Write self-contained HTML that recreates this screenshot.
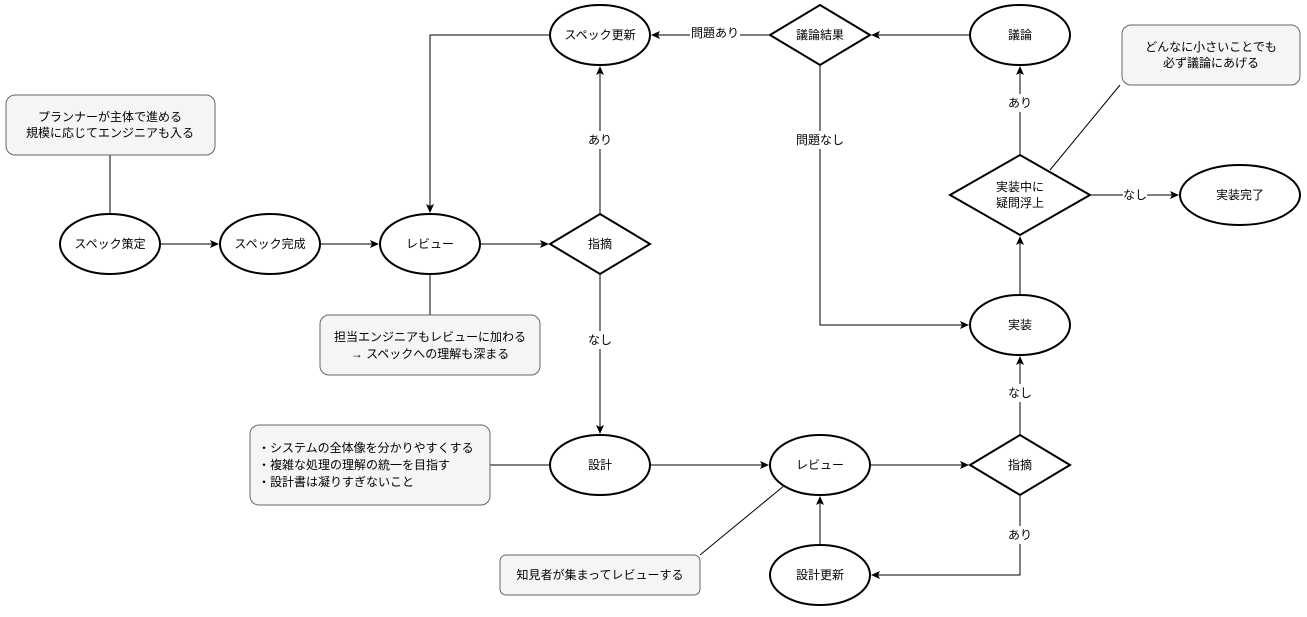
<!DOCTYPE html>
<html><head><meta charset="utf-8"><style>
html,body{margin:0;padding:0;background:#fff;}
svg text{font-family:"Liberation Sans","Noto Sans CJK JP",sans-serif;font-size:12px;fill:#000;}
</style></head><body>
<svg width="1307" height="612" viewBox="0 0 1307 612" xmlns="http://www.w3.org/2000/svg">
<defs><marker id="a" markerWidth="10" markerHeight="10" refX="8" refY="5" orient="auto" markerUnits="userSpaceOnUse"><path d="M0,1 L9,5 L0,9 L2,5 Z" fill="#000"/></marker></defs>
<g fill="none" stroke="#000" stroke-width="1">
<path d="M160,244 H218" marker-end="url(#a)"/>
<path d="M320,244 H378" marker-end="url(#a)"/>
<path d="M480,244 H548" marker-end="url(#a)"/>
<path d="M600,214 V67" marker-end="url(#a)"/>
<path d="M600,274 V433" marker-end="url(#a)"/>
<path d="M550,35 H430 V212" marker-end="url(#a)"/>
<path d="M770,35 H652" marker-end="url(#a)"/>
<path d="M970,35 H872" marker-end="url(#a)"/>
<path d="M820,65 V325 H968" marker-end="url(#a)"/>
<path d="M1020,295 V237" marker-end="url(#a)"/>
<path d="M1020,155 V67" marker-end="url(#a)"/>
<path d="M1090,195 H1178" marker-end="url(#a)"/>
<path d="M650,465 H768" marker-end="url(#a)"/>
<path d="M870,465 H968" marker-end="url(#a)"/>
<path d="M1020,435 V357" marker-end="url(#a)"/>
<path d="M1020,495 V575 H872" marker-end="url(#a)"/>
<path d="M820,545 V497" marker-end="url(#a)"/>
<path d="M110,155 V214"/>
<path d="M430,274 V315"/>
<path d="M1050,170 L1120,85"/>
<path d="M490,465 H550"/>
<path d="M700,555 L785,485"/>
</g>
<g fill="#f5f5f5" stroke="#666" stroke-width="1">
<rect x="6" y="95" width="209" height="60" rx="9"/>
<rect x="320" y="315" width="220" height="60" rx="9"/>
<rect x="1122" y="25" width="178" height="60" rx="9"/>
<rect x="250" y="425" width="240" height="80" rx="9"/>
<rect x="500" y="555" width="200" height="40" rx="6"/>
</g>
<g fill="#fff" stroke="#000" stroke-width="2">
<ellipse cx="110" cy="244" rx="50" ry="30"/>
<ellipse cx="270" cy="244" rx="50" ry="30"/>
<ellipse cx="430" cy="244" rx="50" ry="30"/>
<polygon points="600,214 650,244 600,274 550,244"/>
<ellipse cx="600" cy="35" rx="50" ry="30"/>
<polygon points="820,5 870,35 820,65 770,35"/>
<ellipse cx="1020" cy="35" rx="50" ry="30"/>
<polygon points="1020,155 1090,195 1020,235 950,195"/>
<ellipse cx="1240" cy="195" rx="60" ry="30"/>
<ellipse cx="1020" cy="325" rx="50" ry="30"/>
<ellipse cx="600" cy="465" rx="50" ry="30"/>
<ellipse cx="820" cy="465" rx="50" ry="30"/>
<polygon points="1020,435 1070,465 1020,495 970,465"/>
<ellipse cx="820" cy="575" rx="50" ry="30"/>
</g>
<g text-anchor="middle" dominant-baseline="central">
<text x="110" y="244">スペック策定</text>
<text x="270" y="244">スペック完成</text>
<text x="430" y="244">レビュー</text>
<text x="600" y="244">指摘</text>
<text x="600" y="35">スペック更新</text>
<text x="820" y="35">議論結果</text>
<text x="1020" y="35">議論</text>
<text x="1020" y="187">実装中に</text>
<text x="1020" y="203">疑問浮上</text>
<text x="1240" y="195">実装完了</text>
<text x="1020" y="325">実装</text>
<text x="600" y="465">設計</text>
<text x="820" y="465">レビュー</text>
<text x="1020" y="465">指摘</text>
<text x="820" y="575">設計更新</text>
<text x="110" y="117">プランナーが主体で進める</text>
<text x="110" y="133">規模に応じてエンジニアも入る</text>
<text x="430" y="337">担当エンジニアもレビューに加わる</text>
<text x="430" y="354">→ スペックへの理解も深まる</text>
<text x="1211" y="47">どんなに小さいことでも</text>
<text x="1211" y="63">必ず議論にあげる</text>
<text x="600" y="575">知見者が集まってレビューする</text>
</g>
<g text-anchor="middle" dominant-baseline="central">
<rect x="588" y="131" width="24" height="18" fill="#fff"/><text x="600" y="140">あり</text>
<rect x="588" y="331" width="24" height="18" fill="#fff"/><text x="600" y="340">なし</text>
<rect x="690" y="24" width="50" height="18" fill="#fff"/><text x="715" y="33">問題あり</text>
<rect x="795" y="131" width="50" height="18" fill="#fff"/><text x="820" y="140">問題なし</text>
<rect x="1008" y="94" width="24" height="18" fill="#fff"/><text x="1020" y="103">あり</text>
<rect x="1123" y="186" width="24" height="18" fill="#fff"/><text x="1135" y="195">なし</text>
<rect x="1008" y="384" width="24" height="18" fill="#fff"/><text x="1020" y="393">なし</text>
<rect x="1008" y="526" width="24" height="18" fill="#fff"/><text x="1020" y="535">あり</text>
</g>
<g dominant-baseline="central">
<text x="258" y="448">・システムの全体像を分かりやすくする</text>
<text x="258" y="465">・複雑な処理の理解の統一を目指す</text>
<text x="258" y="482">・設計書は凝りすぎないこと</text>
</g>
</svg>
</body></html>
